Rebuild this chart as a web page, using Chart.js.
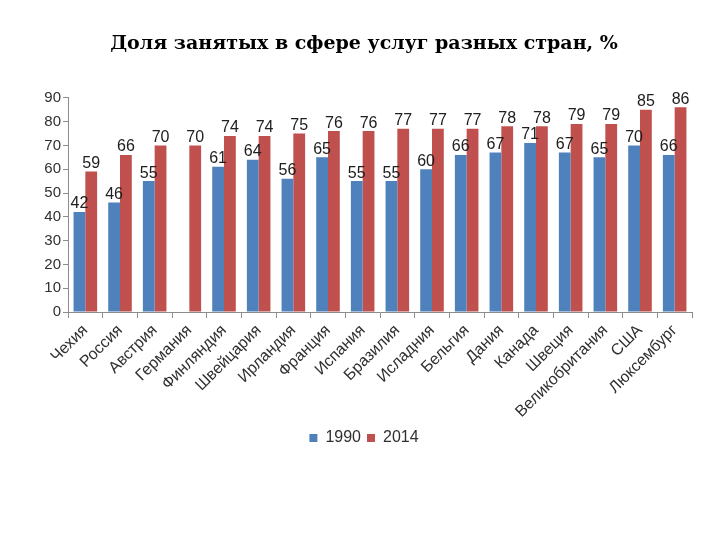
<!DOCTYPE html>
<html>
<head>
<meta charset="utf-8">
<script src="https://cdn.jsdelivr.net/npm/chart.js@4.4.1/dist/chart.umd.min.js"></script>
<style>
  html, body { margin: 0; padding: 0; background: #ffffff; }
  #wrap { width: 720px; height: 540px; }
</style>
</head>
<body>
<div id="wrap"><canvas id="chart" width="720" height="540"></canvas></div>
<script>
// share of employment in services, %
const countries = ['Чехия', 'Россия', 'Австрия', 'Германия', 'Финляндия', 'Швейцария', 'Ирландия',
  'Франция', 'Испания', 'Бразилия', 'Исладния', 'Бельгия', 'Дания', 'Канада', 'Швеция',
  'Великобритания', 'США', 'Люксембург'];
const values1990 = [42, 46, 55, null, 61, 64, 56, 65, 55, 55, 60, 66, 67, 71, 67, 65, 70, 66];
const values2014 = [59, 66, 70, 70, 74, 74, 75, 76, 76, 77, 77, 77, 78, 78, 79, 79, 85, 86];
const yTicks = [0, 10, 20, 30, 40, 50, 60, 70, 80, 90];

const COLOR_1990 = '#4f81bd';
const COLOR_2014 = '#c0504d';
const COLOR_TEXT = '#303030';
const COLOR_AXIS = '#8c8c8c';
const FONT = 'Liberation Sans, Arial, sans-serif';

// value labels above each bar
const barLabels = {
  id: 'barLabels',
  afterDatasetsDraw(chart) {
    const { ctx } = chart;
    ctx.save();
    ctx.font = '16px ' + FONT;
    ctx.fillStyle = '#202020';
    ctx.textAlign = 'center';
    ctx.textBaseline = 'bottom';
    chart.data.datasets.forEach((ds, i) => {
      const meta = chart.getDatasetMeta(i);
      meta.data.forEach((bar, j) => {
        const v = ds.data[j];
        if (v === null || v === undefined) return;
        ctx.fillText(String(v), bar.x, bar.y);
      });
    });
    ctx.restore();
  }
};

new Chart(document.getElementById('chart'), {
  type: 'bar',
  data: {
    labels: countries,
    datasets: [
      { label: '1990', data: values1990, backgroundColor: COLOR_1990, borderWidth: 0,
        categoryPercentage: 0.68, barPercentage: 1.0 },
      { label: '2014', data: values2014, backgroundColor: COLOR_2014, borderWidth: 0,
        categoryPercentage: 0.68, barPercentage: 1.0 }
    ]
  },
  plugins: [barLabels],
  options: {
    responsive: false,
    animation: false,
    layout: { padding: { left: 36, right: 28, top: 0, bottom: 84 } },
    scales: {
      x: {
        grid: { drawOnChartArea: false, drawTicks: true, tickLength: 6, color: COLOR_AXIS, offset: true },
        border: { color: COLOR_AXIS },
        ticks: { color: COLOR_TEXT, font: { family: FONT, size: 16 }, minRotation: 45, maxRotation: 45, autoSkip: false },
        afterFit: s => { s.height = 112; }
      },
      y: {
        min: 0, max: 90,
        afterBuildTicks: s => { s.ticks = yTicks.map(v => ({ value: v })); },
        grid: { drawOnChartArea: false, drawTicks: true, tickLength: 5, color: COLOR_AXIS },
        border: { color: COLOR_AXIS },
        ticks: { color: COLOR_TEXT, font: { family: FONT, size: 15 }, padding: 2 },
        afterFit: s => { s.width = 32; }
      }
    },
    plugins: {
      title: {
        display: true,
        text: 'Доля занятых в сфере услуг разных стран, %',
        color: '#000000',
        font: { family: 'DejaVu Serif, serif', size: 19, weight: 'bold' },
        padding: { top: 33, bottom: 42 }
      },
      legend: {
        position: 'bottom',
        labels: { color: COLOR_TEXT, font: { family: FONT, size: 16 }, boxWidth: 8, boxHeight: 8, padding: 6 }
      },
      tooltip: { enabled: false }
    }
  }
});
</script>
</body>
</html>
